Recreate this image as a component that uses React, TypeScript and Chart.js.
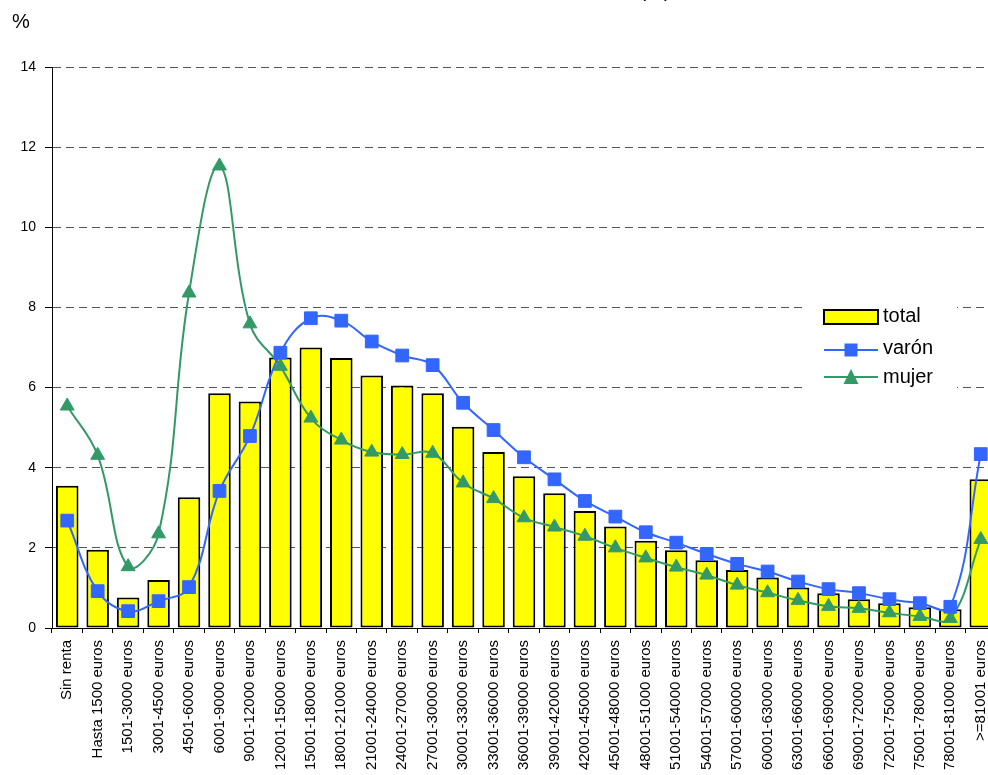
import React, { useEffect, useRef } from 'react';
import { Chart, registerables } from 'chart.js';

Chart.register(...registerables);

const FONT = "'Liberation Sans', Arial, Helvetica, sans-serif";

const categories = [
  'Sin renta', 'Hasta 1500 euros', '1501-3000 euros', '3001-4500 euros', '4501-6000 euros',
  '6001-9000 euros', '9001-12000 euros', '12001-15000 euros', '15001-18000 euros', '18001-21000 euros',
  '21001-24000 euros', '24001-27000 euros', '27001-30000 euros', '30001-33000 euros', '33001-36000 euros',
  '36001-39000 euros', '39001-42000 euros', '42001-45000 euros', '45001-48000 euros', '48001-51000 euros',
  '51001-54000 euros', '54001-57000 euros', '57001-60000 euros', '60001-63000 euros', '63001-66000 euros',
  '66001-69000 euros', '69001-72000 euros', '72001-75000 euros', '75001-78000 euros', '78001-81000 euros',
  '>=81001 euros',
];

const total = [
  3.55, 1.95, 0.76, 1.2, 3.26, 5.86, 5.65, 6.75, 7.0, 6.74,
  6.3, 6.05, 5.86, 5.02, 4.39, 3.79, 3.36, 2.92, 2.53, 2.18,
  1.94, 1.69, 1.45, 1.26, 1.01, 0.87, 0.72, 0.62, 0.52, 0.47,
  3.71,
];

const varon = [
  2.68, 0.92, 0.42, 0.67, 1.02, 3.42, 4.79, 6.87, 7.73, 7.67,
  7.15, 6.8, 6.56, 5.62, 4.94, 4.26, 3.71, 3.17, 2.78, 2.39,
  2.13, 1.85, 1.6, 1.41, 1.16, 0.97, 0.87, 0.72, 0.62, 0.53,
  4.34,
];

const mujer = [
  5.54, 4.31, 1.53, 2.35, 8.36, 11.53, 7.59, 6.53, 5.24, 4.69,
  4.39, 4.33, 4.36, 3.62, 3.23, 2.75, 2.52, 2.29, 2.0, 1.75,
  1.52, 1.32, 1.07, 0.88, 0.69, 0.54, 0.49, 0.38, 0.29, 0.24,
  2.21,
];

const yMin = 0;
const yMax = 14;
const yStep = 2;
const seriesNames = ['total', 'varón', 'mujer'];
const unitLabel = '%';
const titleFragment = '(%)';

const YELLOW = '#FFFF00';
const BLUE = '#3366FF';
const GREEN = '#339966';

export default function App() {
  const ref = useRef<HTMLCanvasElement>(null);

  useEffect(() => {
    const canvas = ref.current;
    if (!canvas) return;

    const overlay = {
      id: 'overlay',
      afterDraw(chart: any) {
        const ctx = chart.ctx as CanvasRenderingContext2D;
        ctx.save();
        ctx.fillStyle = '#000';
        ctx.textBaseline = 'alphabetic';
        ctx.textAlign = 'left';
        ctx.font = `20px ${FONT}`;
        ctx.fillText(unitLabel, 12, 28);
        ctx.textAlign = 'center';
        ctx.fillText(titleFragment, 655, -3);

        // legend
        ctx.fillStyle = '#fff';
        ctx.fillRect(806, 297, 151, 100);

        // total
        ctx.fillStyle = YELLOW;
        ctx.fillRect(824, 310, 54, 14);
        ctx.strokeStyle = '#000';
        ctx.lineWidth = 2;
        ctx.strokeRect(824, 310, 54, 14);

        // varón
        ctx.strokeStyle = BLUE;
        ctx.lineWidth = 2;
        ctx.beginPath();
        ctx.moveTo(824, 350);
        ctx.lineTo(878, 350);
        ctx.stroke();
        ctx.fillStyle = BLUE;
        ctx.fillRect(844.5, 343.5, 13, 13);

        // mujer
        ctx.strokeStyle = GREEN;
        ctx.beginPath();
        ctx.moveTo(824, 377);
        ctx.lineTo(878, 377);
        ctx.stroke();
        ctx.fillStyle = GREEN;
        ctx.beginPath();
        ctx.moveTo(851, 369);
        ctx.lineTo(858.5, 384);
        ctx.lineTo(843.5, 384);
        ctx.closePath();
        ctx.fill();

        ctx.fillStyle = '#000';
        ctx.textAlign = 'left';
        ctx.font = `20px ${FONT}`;
        ctx.fillText(seriesNames[0], 883, 322);
        ctx.fillText(seriesNames[1], 883, 354);
        ctx.fillText(seriesNames[2], 883, 383);
        ctx.restore();
      },
    };

    const chart = new Chart(canvas, {
      type: 'bar',
      data: {
        labels: categories,
        datasets: [
          {
            type: 'line',
            label: seriesNames[1],
            data: varon,
            borderColor: BLUE,
            backgroundColor: BLUE,
            borderWidth: 2,
            pointStyle: 'rect',
            pointRadius: 9,
            pointBorderWidth: 1,
            pointBorderColor: BLUE,
            pointBackgroundColor: BLUE,
            tension: 0.4,
            fill: false,
            order: 1,
          } as any,
          {
            type: 'line',
            label: seriesNames[2],
            data: mujer,
            borderColor: GREEN,
            backgroundColor: GREEN,
            borderWidth: 2,
            pointStyle: 'triangle',
            pointRadius: 8,
            pointBorderWidth: 1,
            pointBorderColor: GREEN,
            pointBackgroundColor: GREEN,
            tension: 0.4,
            fill: false,
            order: 2,
          } as any,
          {
            type: 'bar',
            label: seriesNames[0],
            data: total,
            backgroundColor: YELLOW,
            borderColor: '#000',
            borderWidth: 2,
            borderSkipped: false,
            barPercentage: 0.74,
            categoryPercentage: 1,
            order: 3,
          } as any,
        ],
      },
      options: {
        responsive: false,
        animation: false,
        devicePixelRatio: 1,
        layout: { padding: { top: 67, right: 4, left: 0, bottom: 0 } },
        plugins: {
          legend: { display: false },
          tooltip: { enabled: false },
          title: { display: false },
        },
        scales: {
          x: {
            offset: true,
            grid: {
              display: true,
              drawOnChartArea: false,
              offset: true,
              tickLength: 5,
              color: '#000',
              tickColor: '#000',
            },
            border: { display: true, color: '#000', width: 1 },
            ticks: {
              autoSkip: false,
              maxRotation: 90,
              minRotation: 90,
              padding: 7,
              color: '#000',
              font: { family: FONT, size: 15 },
            },
            afterFit: (s: any) => {
              s.height = 147;
            },
          },
          y: {
            min: yMin,
            max: yMax,
            ticks: {
              stepSize: yStep,
              padding: 9,
              color: '#000',
              font: { family: FONT, size: 14 },
            },
            grid: {
              color: '#555',
              tickColor: '#000',
              tickLength: 7,
              lineWidth: 1,
            },
            border: { display: true, color: '#000', width: 1, dash: [8, 5] },
            afterFit: (s: any) => {
              s.width = 52;
            },
          },
        },
      } as any,
      plugins: [overlay],
    });

    return () => chart.destroy();
  }, []);

  return (
    <div
      style={{
        position: 'absolute',
        left: 0,
        top: 0,
        width: 988,
        height: 775,
        overflow: 'hidden',
        background: '#fff',
      }}
    >
      <canvas ref={ref} width={1006} height={775} style={{ display: 'block' }} />
    </div>
  );
}
